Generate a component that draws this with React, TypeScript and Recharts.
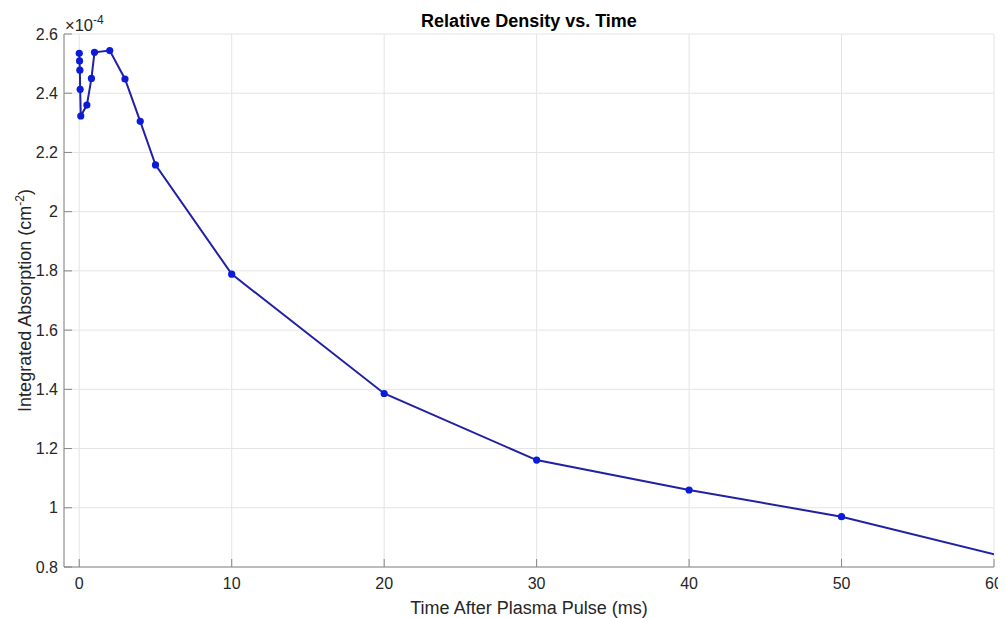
import { LineChart, Line, XAxis, YAxis, CartesianGrid, Label } from 'recharts';

// time after the plasma pulse (ms)
const timesMs = [0, 0.02, 0.04, 0.06, 0.1, 0.5, 0.8, 1, 2, 3, 4, 5, 10, 20, 30, 40, 50, 70];
// integrated absorption, in units of 1e-4 cm^-2
const absorptionE4 = [
  2.535, 2.509, 2.478, 2.413, 2.323, 2.36, 2.45, 2.538, 2.544, 2.448, 2.305, 2.158,
  1.789, 1.386, 1.161, 1.06, 0.97, 0.716,
];

const xTicks = [0, 10, 20, 30, 40, 50, 60];
const yTicks = [0.8, 1, 1.2, 1.4, 1.6, 1.8, 2, 2.2, 2.4, 2.6];

const data = timesMs.map((t, i) => ({ t, a: absorptionE4[i] }));

const W = 998;
const H = 610;
const FONT = '"Liberation Sans", Arial, Helvetica, sans-serif';
const INK = '#262626';
const AXIS = '#868686';
const TICK_LEN = 8;

const fmt = (v: number) => String(Number(v.toFixed(1)));

// MATLAB-style ticks point into the plot box
function BottomTick({ x, y, payload }: any) {
  return (
    <g>
      <line x1={x} y1={y} x2={x} y2={y - TICK_LEN} stroke={AXIS} />
      <text x={x} y={y + 22} textAnchor="middle" fontSize={16} fill={INK} fontFamily={FONT}>
        {fmt(payload.value)}
      </text>
    </g>
  );
}

function LeftTick({ x, y, payload }: any) {
  return (
    <g>
      <line x1={x} y1={y} x2={x + TICK_LEN} y2={y} stroke={AXIS} />
      <text x={x - 6} y={y + 5.5} textAnchor="end" fontSize={16} fill={INK} fontFamily={FONT}>
        {fmt(payload.value)}
      </text>
    </g>
  );
}

function TopTick({ x, y }: any) {
  return <line x1={x} y1={y} x2={x} y2={y + TICK_LEN} stroke={AXIS} />;
}

function RightTick({ x, y }: any) {
  return <line x1={x} y1={y} x2={x - TICK_LEN} y2={y} stroke={AXIS} />;
}

function XTitle({ viewBox }: any) {
  const { x, y, width } = viewBox;
  return (
    <text x={x + width / 2} y={y + 47} textAnchor="middle" fontSize={18} fill={INK} fontFamily={FONT}>
      Time After Plasma Pulse (ms)
    </text>
  );
}

function YTitle({ viewBox }: any) {
  const cx = 23;
  const cy = viewBox.y + viewBox.height / 2;
  return (
    <text
      x={cx}
      y={cy}
      transform={`rotate(-90 ${cx} ${cy})`}
      textAnchor="middle"
      fontSize={18}
      fill={INK}
      fontFamily={FONT}
    >
      Integrated Absorption (cm
      <tspan dy={-7} fontSize={12}>-2</tspan>
      <tspan dy={7}>)</tspan>
    </text>
  );
}

export default function App() {
  return (
    <div style={{ position: 'relative', width: W, height: H }}>
      <LineChart width={W} height={H} data={data} margin={{ top: 26, right: 12, bottom: 0, left: 0 }}>
        <CartesianGrid stroke="#e4e4e4" />
        <XAxis
          dataKey="t"
          type="number"
          domain={[-1, 60]}
          allowDataOverflow
          ticks={xTicks}
          interval={0}
          height={51}
          tickSize={0}
          tickMargin={0}
          tick={BottomTick}
          stroke={AXIS}
        >
          <Label content={XTitle} />
        </XAxis>
        <XAxis
          xAxisId="top"
          orientation="top"
          type="number"
          domain={[-1, 60]}
          allowDataOverflow
          ticks={xTicks}
          interval={0}
          height={0}
          tickSize={0}
          tickMargin={0}
          tick={TopTick}
          stroke={AXIS}
        />
        <YAxis
          type="number"
          domain={[0.8, 2.6]}
          allowDataOverflow
          ticks={yTicks}
          interval={0}
          width={56}
          tickSize={0}
          tickMargin={0}
          tick={LeftTick}
          stroke={AXIS}
        >
          <Label content={YTitle} />
        </YAxis>
        <YAxis
          yAxisId="right"
          orientation="right"
          type="number"
          domain={[0.8, 2.6]}
          allowDataOverflow
          ticks={yTicks}
          interval={0}
          width={0}
          tickSize={0}
          tickMargin={0}
          tick={RightTick}
          stroke={AXIS}
        />
        <Line
          type="linear"
          dataKey="a"
          stroke="#2121a3"
          strokeWidth={2}
          dot={{ r: 3.6, fill: '#0b1bd8', stroke: '#0b1bd8', strokeWidth: 0 }}
          activeDot={false}
          isAnimationActive={false}
        />
      </LineChart>
      <svg
        width={W}
        height={H}
        style={{ position: 'absolute', left: 0, top: 0, pointerEvents: 'none' }}
      >
        <text x={521} y={19} textAnchor="middle" fontSize={18} fontWeight="bold" fill="#000" fontFamily={FONT}>
          Relative Density vs. Time
        </text>
        <text x={57} y={22.5} fontSize={16.5} fill={INK} fontFamily={FONT}>
          ×10
          <tspan dy={-7} fontSize={12}>-4</tspan>
        </text>
      </svg>
    </div>
  );
}
